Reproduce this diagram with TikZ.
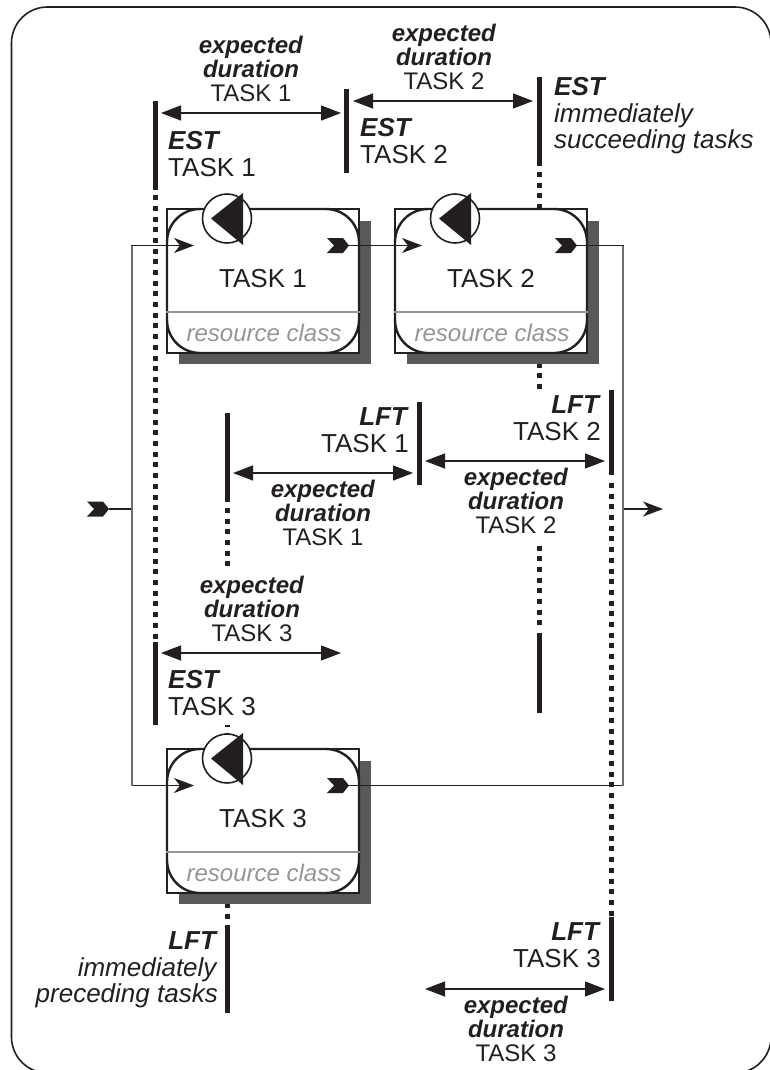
\documentclass[tikz,border=0pt]{standalone}
\usepackage{fontspec}
\setmainfont{Liberation Sans}
\usepackage{tikz}
\usetikzlibrary{arrows.meta,positioning}
\definecolor{inkblack}{HTML}{231F20}
\definecolor{shadowgray}{HTML}{58595B}
\definecolor{classgray}{HTML}{939598}
\definecolor{busgray}{HTML}{6D6E71}
\newcommand{\keyterm}[1]{\textbf{\textit{#1}}}
\tikzset{
  lbl/.style={font=\fontsize{24}{24}\selectfont,inner sep=0pt,text=inkblack},
  barlbl/.style={font=\fontsize{26}{26}\selectfont,inner sep=0pt,text=inkblack},
  barline/.style={inkblack,line width=5pt},
  dotline/.style={inkblack,line width=5pt,dash pattern=on 5pt off 5.69pt},
  duration/.style={inkblack,line width=1.3pt,{Triangle[length=20pt,width=15pt]}-{Triangle[length=20pt,width=15pt]}},
  bus/.style={inkblack,line width=1.2pt},
  busin/.style={bus,-{Stealth[length=20pt,width=15pt,inset=6pt]}},
  buswall/.style={busgray,line width=1.9pt},
  taskbox/.style={draw=inkblack,line width=1.6pt,fill=white,minimum width=192pt,minimum height=144pt,inner sep=0pt},
  taskround/.style={taskbox,fill=none,line width=2.4pt,rounded corners=33pt},
  pump/.style={circle,draw=inkblack,fill=white,line width=1.6pt,minimum size=49pt,inner sep=0pt},
  chevron/.pic={\fill[inkblack] (-22,-7.5) -- (-6,-7.5) -- (0,0) -- (-6,7.5) -- (-22,7.5) -- (-15,0) -- cycle;}
}
\newcommand{\taskunit}[4]{
  \fill[shadowgray] (#2-84,#3-60) rectangle (#2+108,#3+83);
  \node[taskbox] (#1) at (#2,#3) {};
  \node[taskround] (#1edge) at (#2,#3) {};
  \draw[classgray,line width=2.5pt] (#1.west |- 0,#3+31) -- (#1.east |- 0,#3+31);
  \node[pump] (#1pump) at (#2-36,#3-62.5) {};
  \fill[inkblack] (#2-52,#3-62.5) -- (#2-20,#3-88) -- (#2-20,#3-36) -- cycle;
  \node[barlbl] (#1name) at (#2,#3-2) {#4};
  \node[lbl,text=classgray] (#1class) at (#2+1,#3+52) {\textit{resource class}};
  \coordinate (#1in) at (#2-69,#3-35.5);
  \coordinate (#1out) at (#2+86,#3-35.5);
  \pic at (#1out) {chevron};
}
\begin{document}
\begin{tikzpicture}[x=1pt,y=-1pt]
  \useasboundingbox (0,0) rectangle (769,1070);
  \draw[inkblack,line width=1.6pt,rounded corners=36pt] (11.5,7) rectangle (771,1073);
  % dotted guides, behind the task boxes
  \draw[dotline] (155,638.5) -- (155,190);
  \draw[dotline] (227,508) -- (227,566.5);
  \draw[dotline] (539,172) -- (539,212);
  \draw[dotline] (539,352) -- (539,389);
  \draw[dotline] (539,545.5) -- (539,626);
  \draw[dotline] (611,483) -- (611,916);
  \draw[dotline] (227,919) -- (227,895);
  \draw[barline] (227,725) -- (227,727);
  \draw[barline] (227,733) -- (227,740);
  % time bars
  \draw[barline] (155,101) -- (155,190);
  \draw[barline] (346.5,89) -- (346.5,173);
  \draw[barline] (539,77) -- (539,166);
  \draw[barline] (227,413) -- (227,502);
  \draw[barline] (419,402) -- (419,485);
  \draw[barline] (611,390) -- (611,475);
  \draw[barline] (155,642) -- (155,725);
  \draw[barline] (539,633) -- (539,713);
  \draw[barline] (227,925) -- (227,1013);
  \draw[barline] (611,917) -- (611,1001);
  % tasks
  \taskunit{taskone}{263}{281}{TASK 1}
  \taskunit{tasktwo}{491}{281}{TASK 2}
  \taskunit{taskthree}{263}{821}{TASK 3}
  % network connectors
  \coordinate (netin) at (109,509);
  \coordinate (busleft) at (132,509);
  \coordinate (busright) at (623,509);
  \coordinate (netout) at (663,509);
  \pic at (netin) {chevron};
  \draw[bus] (netin) -- (busleft);
  \draw[busin] (busleft) |- (taskonein);
  \draw[busin] (busleft) |- (taskthreein);
  \draw[busin] (taskoneout) -- (tasktwoin);
  \draw[bus] (tasktwoout) -| (busright);
  \draw[bus] (taskthreeout) -| (busright);
  \draw[busin] (busright) -- (netout);
  \draw[buswall] (busleft |- taskonein) -- (busleft |- taskthreein);
  \draw[buswall] (busright |- tasktwoout) -- (busright |- taskthreeout);
  % expected duration spans
  \coordinate (spanAl) at (161,113); \coordinate (spanAr) at (341,113);
  \coordinate (spanBl) at (353,101); \coordinate (spanBr) at (533,101);
  \coordinate (spanCl) at (233,473); \coordinate (spanCr) at (413,473);
  \coordinate (spanDl) at (425,461); \coordinate (spanDr) at (605,461);
  \coordinate (spanEl) at (161,653); \coordinate (spanEr) at (341,653);
  \coordinate (spanFl) at (425,989); \coordinate (spanFr) at (605,989);
  \draw[duration] (spanAl) -- (spanAr);
  \draw[duration] (spanBl) -- (spanBr);
  \draw[duration] (spanCl) -- (spanCr);
  \draw[duration] (spanDl) -- (spanDr);
  \draw[duration] (spanEl) -- (spanEr);
  \draw[duration] (spanFl) -- (spanFr);
  % labels of the spans
  \node[lbl,align=center] (durone) at (251,69) {\keyterm{expected}\\\keyterm{duration}\\TASK 1};
  \node[lbl,align=center] (durtwo) at (444,57) {\keyterm{expected}\\\keyterm{duration}\\TASK 2};
  \node[lbl,align=center] (durlfone) at (323,513) {\keyterm{expected}\\\keyterm{duration}\\TASK 1};
  \node[lbl,align=center] (durlftwo) at (516,501) {\keyterm{expected}\\\keyterm{duration}\\TASK 2};
  \node[lbl,align=center] (durthree) at (252,609) {\keyterm{expected}\\\keyterm{duration}\\TASK 3};
  \node[lbl,align=center] (durlfthree) at (516,1029) {\keyterm{expected}\\\keyterm{duration}\\TASK 3};
  % labels of the bars
  \node[barlbl,align=left,anchor=west] (estone) at (168,154) {\keyterm{EST}\\[1pt]TASK 1};
  \node[barlbl,align=left,anchor=west] (esttwo) at (360,141) {\keyterm{EST}\\[1pt]TASK 2};
  \node[barlbl,align=left,anchor=west] (estnext) at (554,116) {\keyterm{EST}\\[1pt]\textit{immediately}\\\textit{succeeding tasks}};
  \node[barlbl,align=left,anchor=west] (estthree) at (168,693) {\keyterm{EST}\\[1pt]TASK 3};
  \node[barlbl,align=right,anchor=east] (lftone) at (409,430) {\keyterm{LFT}\\[1pt]TASK 1};
  \node[barlbl,align=right,anchor=east] (lfttwo) at (601,418) {\keyterm{LFT}\\[1pt]TASK 2};
  \node[barlbl,align=right,anchor=east] (lftthree) at (601,945) {\keyterm{LFT}\\[1pt]TASK 3};
  \node[barlbl,align=right,anchor=east] (lftprev) at (218,970) {\keyterm{LFT}\\[1pt]\textit{immediately}\\\textit{preceding tasks}};
\end{tikzpicture}
\end{document}
